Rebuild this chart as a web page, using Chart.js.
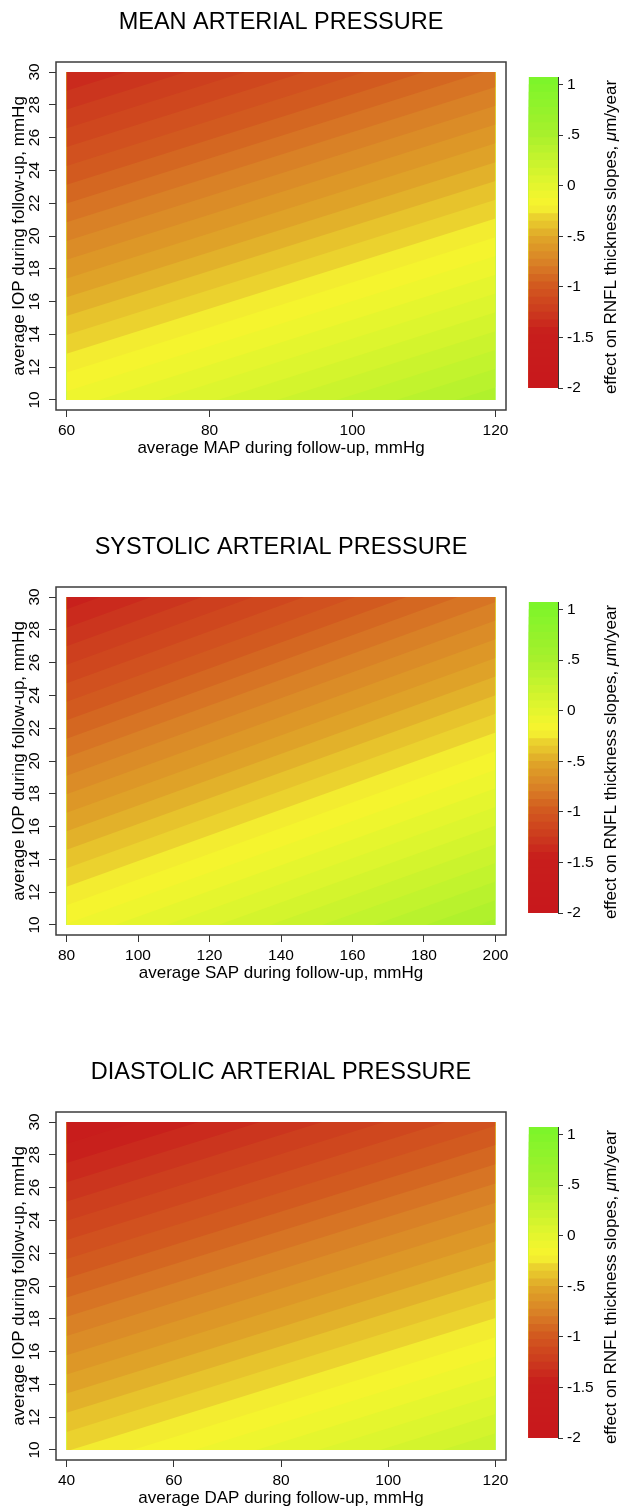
<!DOCTYPE html>
<html>
<head>
<meta charset="utf-8">
<script src="https://cdn.jsdelivr.net/npm/chart.js@4.4.0/dist/chart.umd.min.js"></script>
<style>
  html, body { margin: 0; padding: 0; background: #fff; overflow: hidden; }
  .block { position: absolute; left: 0; width: 623px; height: 525px; }
  .block canvas { position: absolute; top: 0; }
</style>
</head>
<body>
<div class="block" style="top:0px">
  <canvas id="mapChart" width="623" height="525" style="left:0px"></canvas>
  <canvas id="mapBar" width="108" height="525" style="left:515px"></canvas>
</div>
<div class="block" style="top:525px">
  <canvas id="sapChart" width="623" height="525" style="left:0px"></canvas>
  <canvas id="sapBar" width="108" height="525" style="left:515px"></canvas>
</div>
<div class="block" style="top:1050px">
  <canvas id="dapChart" width="623" height="525" style="left:0px"></canvas>
  <canvas id="dapBar" width="108" height="525" style="left:515px"></canvas>
</div>
<script>
// contour cuts of the effect on RNFL slopes (um/year), same for the 3 panels
const effectCuts = [-2, -1.925, -1.85, -1.775, -1.7, -1.625, -1.55, -1.475, -1.4, -1.325,
  -1.25, -1.175, -1.1, -1.025, -0.95, -0.875, -0.8, -0.725, -0.65, -0.575, -0.5, -0.425,
  -0.35, -0.275, -0.2, -0.125, -0.05, 0.025, 0.1, 0.175, 0.25, 0.325, 0.4, 0.475, 0.55,
  0.625, 0.7, 0.775, 0.85, 0.925, 1, 1.075];
const cbTicks = [-2, -1.5, -1, -0.5, 0, 0.5, 1];
const cbTickLabels = ['-2', '-1.5', '-1', '-.5', '0', '.5', '1'];

// IOP axis (y)
const iopRange = [10, 30];
const iopTicks = [10, 12, 14, 16, 18, 20, 22, 24, 26, 28, 30];

// MAP panel: effect at the corners (low IOP / high IOP, for min and max MAP)
const mapRange = [60, 120];
const mapTicks = [60, 80, 100, 120];
const mapEffectLowIop = [-0.09, 0.45];
const mapEffectHighIop = [-1.40, -0.86];

// SAP panel
const sapRange = [80, 200];
const sapTicks = [80, 100, 120, 140, 160, 180, 200];
const sapEffectLowIop = [-0.12, 0.50];
const sapEffectHighIop = [-1.45, -0.82];

// DAP panel
const dapRange = [40, 120];
const dapTicks = [40, 60, 80, 100, 120];
const dapEffectLowIop = [-0.28, 0.24];
const dapEffectHighIop = [-1.56, -1.04];

/*********************************************************************/

const FONT = '"Liberation Sans", Arial, Helvetica, sans-serif';
Chart.defaults.font.family = FONT;
Chart.defaults.color = '#000';

// colour ramp red -> orange -> yellow -> green
let rampStops = [
  [-2.0, [200, 24, 28]],
  [-1.45, [200, 30, 28]],
  [-1.25, [204, 58, 30]],
  [-1.0, [210, 88, 31]],
  [-0.75, [217, 131, 38]],
  [-0.5, [224, 168, 40]],
  [-0.4, [230, 192, 44]],
  [-0.3, [236, 212, 46]],
  [-0.24, [243, 236, 48]],
  [-0.15, [245, 245, 46]],
  [0.0, [228, 245, 46]],
  [0.25, [198, 243, 45]],
  [0.5, [168, 240, 44]],
  [1.05, [124, 245, 42]]
];

function colorAt(v){
    if(v <= rampStops[0][0]) return rampStops[0][1];
    for(let i=1; i<rampStops.length; i++){
        if(v <= rampStops[i][0]){
            let a = rampStops[i-1], b = rampStops[i];
            let t = (v - a[0]) / (b[0] - a[0]);
            return a[1].map((c, j) => Math.round(c + (b[1][j] - c) * t));
        }
    }
    return rampStops[rampStops.length-1][1];
}

function bandColor(k){
    let c = colorAt((effectCuts[k] + effectCuts[k+1]) / 2);
    return 'rgb(' + c[0] + ',' + c[1] + ',' + c[2] + ')';
}

// IOP where the cut crosses a vertical edge of the grid
function crossing(cut, lowVal, highVal){
    return iopRange[0] + (cut - lowVal) / (highVal - lowVal) * (iopRange[1] - iopRange[0]);
}

// clip the bands to the data rectangle and draw the box
const framePlugin = {
    id: 'frame',
    beforeDatasetsDraw(chart, args, opts){
        let x = chart.scales.x, y = chart.scales.y, ctx = chart.ctx;
        let l = x.getPixelForValue(opts.x0), r = x.getPixelForValue(opts.x1);
        let t = y.getPixelForValue(iopRange[1]), b = y.getPixelForValue(iopRange[0]);
        ctx.save();
        ctx.beginPath();
        ctx.rect(l, t, r - l, b - t);
        ctx.clip();
    },
    afterDatasetsDraw(chart){
        chart.ctx.restore();
    },
    afterDraw(chart){
        let a = chart.chartArea, ctx = chart.ctx;
        ctx.save();
        ctx.strokeStyle = '#3c3c3c';
        ctx.lineWidth = 1.5;
        ctx.strokeRect(a.left, a.top, a.right - a.left, a.bottom - a.top);
        ctx.restore();
    }
};

const cbTitlePlugin = {
    id: 'cbTitle',
    afterDraw(chart){
        let ctx = chart.ctx;
        let parts = [['effect on RNFL thickness slopes, ', 'normal'], ['\u03bc', 'italic'], ['m/year', 'normal']];
        ctx.save();
        ctx.fillStyle = '#000';
        ctx.textBaseline = 'middle';
        ctx.textAlign = 'left';
        let widths = parts.map(p => { ctx.font = p[1] + ' 17px ' + FONT; return ctx.measureText(p[0]).width; });
        let total = widths.reduce((s, w) => s + w, 0);
        ctx.translate(96, 237);
        ctx.rotate(-Math.PI / 2);
        let xx = -total / 2;
        parts.forEach((p, i) => {
            ctx.font = p[1] + ' 17px ' + FONT;
            ctx.fillText(p[0], xx, 0);
            xx += widths[i];
        });
        ctx.restore();
    }
};

function loadContour(canvasId, title, xLabel, xRange, xTicks, lowIop, highIop){

    let datasets = effectCuts.map((cut, k) => ({
        data: [
            {x: xRange[0], y: crossing(cut, lowIop[0], highIop[0])},
            {x: xRange[1], y: crossing(cut, lowIop[1], highIop[1])}
        ],
        borderWidth: 0,
        borderColor: 'rgba(0,0,0,0)',
        pointRadius: 0,
        fill: k === 0 ? false : 'end',
        backgroundColor: k === 0 ? 'rgba(0,0,0,0)' : bandColor(k - 1)
    }));

    let xSpan = xRange[1] - xRange[0];
    let ySpan = iopRange[1] - iopRange[0];

    new Chart(document.getElementById(canvasId), {
        type: 'line',
        data: { datasets: datasets },
        options: {
            responsive: false,
            animation: false,
            events: [],
            layout: { padding: { left: 0, right: 117, top: 0, bottom: 65 } },
            plugins: {
                legend: { display: false },
                tooltip: { enabled: false },
                title: {
                    display: true,
                    fullSize: false,
                    text: title,
                    color: '#000',
                    font: { size: 23.5, weight: 'normal' },
                    padding: { top: 8, bottom: 25.8 }
                },
                frame: { x0: xRange[0], x1: xRange[1] }
            },
            scales: {
                x: {
                    type: 'linear',
                    min: xRange[0] - 0.0245 * xSpan,
                    max: xRange[1] + 0.0245 * xSpan,
                    afterBuildTicks: s => { s.ticks = xTicks.map(v => ({value: v})); },
                    afterFit: s => { s.height = 50; },
                    grid: { drawOnChartArea: false, drawTicks: true, tickLength: 7, color: '#333' },
                    border: { display: false },
                    ticks: { color: '#000', font: { size: 15.5 }, padding: 4, maxRotation: 0, autoSkip: false },
                    title: { display: true, text: xLabel, color: '#000', font: { size: 17 }, padding: { top: 0, bottom: 1 } }
                },
                y: {
                    type: 'linear',
                    min: iopRange[0] - 0.0305 * ySpan,
                    max: iopRange[1] + 0.0305 * ySpan,
                    afterBuildTicks: s => { s.ticks = iopTicks.map(v => ({value: v})); },
                    afterFit: s => { s.width = 56; },
                    grid: { drawOnChartArea: false, drawTicks: true, tickLength: 7, color: '#333' },
                    border: { display: false },
                    ticks: { color: '#000', font: { size: 15.5 }, padding: 6, minRotation: 90, maxRotation: 90, crossAlign: 'center', autoSkip: false },
                    title: { display: true, text: 'average IOP during follow-up, mmHg', color: '#000', font: { size: 17 }, padding: { top: 9, bottom: 0 } }
                }
            }
        },
        plugins: [framePlugin]
    });
}

function loadColorBar(canvasId){

    // painter order: dataset 0 (shortest) ends up on top
    let datasets = effectCuts.slice(1).map((hi, k) => ({
        data: [[effectCuts[0], hi]],
        backgroundColor: bandColor(k),
        borderWidth: 0,
        grouped: false,
        barPercentage: 1,
        categoryPercentage: 1
    }));

    new Chart(document.getElementById(canvasId), {
        type: 'bar',
        data: { labels: [''], datasets: datasets },
        options: {
            responsive: false,
            animation: false,
            events: [],
            layout: { padding: { left: 13.7, right: 0, top: 77, bottom: 137 } },
            plugins: { legend: { display: false }, tooltip: { enabled: false } },
            scales: {
                x: { display: false },
                y: {
                    position: 'right',
                    min: effectCuts[0],
                    max: effectCuts[effectCuts.length - 1],
                    afterBuildTicks: s => { s.ticks = cbTicks.map(v => ({value: v})); },
                    afterFit: s => { s.width = 65; },
                    grid: { drawOnChartArea: false, drawTicks: true, tickLength: 5, color: '#333' },
                    border: { display: true, color: '#333', width: 1 },
                    ticks: {
                        color: '#000', font: { size: 15.5 }, padding: 4, autoSkip: false,
                        callback: function(value){ return cbTickLabels[cbTicks.indexOf(value)]; }
                    }
                }
            }
        },
        plugins: [cbTitlePlugin]
    });
}

/*********************************************************************/

loadContour('mapChart', 'MEAN ARTERIAL PRESSURE', 'average MAP during follow-up, mmHg', mapRange, mapTicks, mapEffectLowIop, mapEffectHighIop);
loadColorBar('mapBar');
loadContour('sapChart', 'SYSTOLIC ARTERIAL PRESSURE', 'average SAP during follow-up, mmHg', sapRange, sapTicks, sapEffectLowIop, sapEffectHighIop);
loadColorBar('sapBar');
loadContour('dapChart', 'DIASTOLIC ARTERIAL PRESSURE', 'average DAP during follow-up, mmHg', dapRange, dapTicks, dapEffectLowIop, dapEffectHighIop);
loadColorBar('dapBar');
</script>
</body>
</html>
